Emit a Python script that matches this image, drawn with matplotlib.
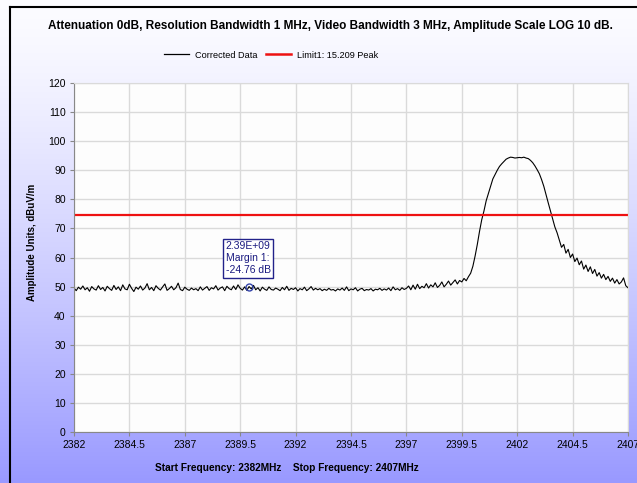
import numpy as np
import matplotlib
matplotlib.use("Agg")
import matplotlib.pyplot as plt
from matplotlib.lines import Line2D

freq_start = 2382.0
freq_step = 0.1
amplitude = [
    49.5, 48.6, 49.8, 49.1, 50.2, 48.9, 49.6, 48.4, 50.0, 49.2,
    48.8, 50.3, 49.0, 49.7, 48.5, 50.1, 49.3, 48.7, 50.4, 49.0,
    49.9, 48.6, 50.6, 49.2, 48.9, 50.8, 49.4, 48.3, 49.8, 49.1,
    50.2, 48.8, 49.5, 51.0, 48.9, 49.7, 48.6, 50.3, 49.4, 48.8,
    49.9, 50.9, 48.7, 49.3, 50.1, 48.9, 49.6, 51.2, 49.0, 48.6,
    49.8, 49.1, 48.7, 49.5, 48.9, 49.3, 48.6, 49.9, 48.8, 49.4,
    50.0, 48.7, 49.6, 49.2, 50.3, 48.8, 49.5, 49.9, 48.6, 50.1,
    49.3, 48.9, 50.2, 49.0, 50.6, 49.4, 48.8, 49.9, 48.7, 50.0,
    49.2, 50.4, 48.9, 49.6, 48.5, 49.8, 49.1, 48.7, 49.9, 49.0,
    48.8, 49.5, 49.1, 48.6, 49.7, 48.9, 50.1, 48.7, 49.4, 49.0,
    49.6, 48.5, 49.3, 48.9, 49.8, 48.6, 49.2, 50.0, 48.8, 49.4,
    48.9, 49.3, 48.6, 49.1, 48.7, 49.4, 48.8, 49.0, 48.5, 49.2,
    48.8, 49.5, 48.7, 49.9, 48.6, 49.2, 48.9, 49.6, 48.5, 49.1,
    49.4, 48.6, 49.0, 48.8, 49.3, 48.5, 49.1, 48.9, 49.4, 48.7,
    49.2, 48.8, 49.5, 48.6, 49.9, 48.9, 49.3, 48.7, 49.6, 49.0,
    49.4, 50.2, 48.9, 50.5, 49.1, 50.8, 49.3, 50.1, 49.6, 51.0,
    49.5, 50.6, 49.9, 51.3, 49.7, 50.4, 51.6, 49.9, 50.8, 51.9,
    50.5, 51.4, 52.3, 50.9, 52.1, 51.6, 52.8, 52.0, 53.4, 54.6,
    57.0, 60.5, 64.5, 69.0, 73.0, 76.0, 79.5, 82.0, 84.5, 87.0,
    88.5, 90.0, 91.3, 92.2, 93.0, 93.8, 94.2, 94.5, 94.4, 94.2,
    94.3, 94.4, 94.3, 94.5, 94.2, 94.0, 93.4, 92.6, 91.5, 90.2,
    88.8, 86.8, 84.5, 81.6, 78.8, 76.0, 73.2, 70.5, 68.5, 66.0,
    63.5, 64.5, 61.5, 62.8, 60.0, 61.2, 58.6, 59.8, 57.5, 58.8,
    56.0, 57.4, 55.2, 56.8, 54.5, 55.9, 53.6, 54.8, 52.9, 54.2,
    52.4, 53.5, 51.8, 52.9, 51.2, 52.4, 50.9, 51.6, 53.0, 50.3,
    49.6,
]
freq = freq_start + freq_step * np.arange(len(amplitude))

limit_level = 74.52
marker_freq = 2389.9
marker_level = 49.76
marker_text = "2.39E+09\nMargin 1:\n-24.76 dB"

x_ticks = [2382, 2384.5, 2387, 2389.5, 2392, 2394.5, 2397, 2399.5, 2402, 2404.5, 2407]
x_ticklabels = ["2382", "2384.5", "2387", "2389.5", "2392", "2394.5",
                "2397", "2399.5", "2402", "2404.5", "2407"]
y_ticks = list(range(0, 121, 10))

title = "Attenuation 0dB, Resolution Bandwidth 1 MHz, Video Bandwidth 3 MHz, Amplitude Scale LOG 10 dB."
x_label = "Start Frequency: 2382MHz    Stop Frequency: 2407MHz"
y_label = "Amplitude Units, dBuV/m"

plt.rcParams['font.family'] = ['Liberation Sans', 'DejaVu Sans']

W, H = 637, 483
fig = plt.figure(figsize=(W / 100, H / 100), dpi=100)

# background gradient, white at top to periwinkle at the bottom
bg = fig.add_axes([0, 0, 1, 1], zorder=-10)
t = np.linspace(0, 1, 256)[:, None]
top = np.array([0.99, 0.99, 1.0])
bottom = np.array([0.60, 0.60, 1.0])
grad = top + (bottom - top) * (t ** 1.3)[..., None]
grad = np.repeat(grad, 2, axis=1)
bg.imshow(grad, aspect='auto', extent=[0, 1, 0, 1], origin='upper')
bg.set_xlim(0, 1)
bg.set_ylim(0, 1)
bg.axis('off')
# black frame on the left and top
bg.plot([10 / W, 10 / W], [0, 1 - 7 / H], color='black', lw=1.5)
bg.plot([10 / W, 1], [1 - 7 / H, 1 - 7 / H], color='black', lw=1.5)

ax = fig.add_axes([74 / W, 1 - 432 / H, (628 - 74) / W, (432 - 83) / H])
ax.set_facecolor('#fdfdfd')
ax.plot(freq, amplitude, color='black', lw=0.8)
ax.axhline(limit_level, color='#ee1111', lw=1.6)

ax.set_xlim(2382, 2407)
ax.set_ylim(0, 120)
ax.set_xticks(x_ticks)
ax.set_xticklabels(x_ticklabels)
ax.set_yticks(y_ticks)
ax.grid(True, color='#dadada', lw=1)
ax.set_axisbelow(True)
ax.tick_params(labelsize=7.5, color='#888888', length=3, width=0.8, pad=3)
for s in ax.spines.values():
    s.set_color('#dadada')
ax.spines['left'].set_color('#888888')
ax.spines['bottom'].set_color('#888888')

# marker annotation
ax.plot([marker_freq], [marker_level], 'o', mfc='none', mec='#3344aa', ms=5, mew=1)
ax.text(2388.85, 65.6, marker_text, ha='left', va='top', fontsize=7.5,
        color='#1a1a80', linespacing=1.25,
        bbox=dict(boxstyle='square,pad=0.25', fc='white', ec='#22228a', lw=1))

fig.text(330 / W, 1 - 26 / H, title, ha='center', va='center',
         fontsize=8.45, fontweight='bold')
fig.text(287 / W, 1 - 468 / H, x_label, ha='center', va='center',
         fontsize=7.3, fontweight='bold')
fig.text(32 / W, 1 - 242 / H, y_label, ha='center', va='center',
         rotation=90, fontsize=7.0, fontweight='bold')

handles = [Line2D([], [], color='black', lw=0.9),
           Line2D([], [], color='#ee1111', lw=1.8)]
fig.legend(handles, ["Corrected Data", "Limit1: 15.209 Peak"], loc='center',
           bbox_to_anchor=(271 / W, 1 - 55 / H), ncol=2, frameon=False,
           fontsize=6.6, handlelength=2.75, handletextpad=0.6, columnspacing=1.0)

fig.savefig('out.png', dpi=100)
